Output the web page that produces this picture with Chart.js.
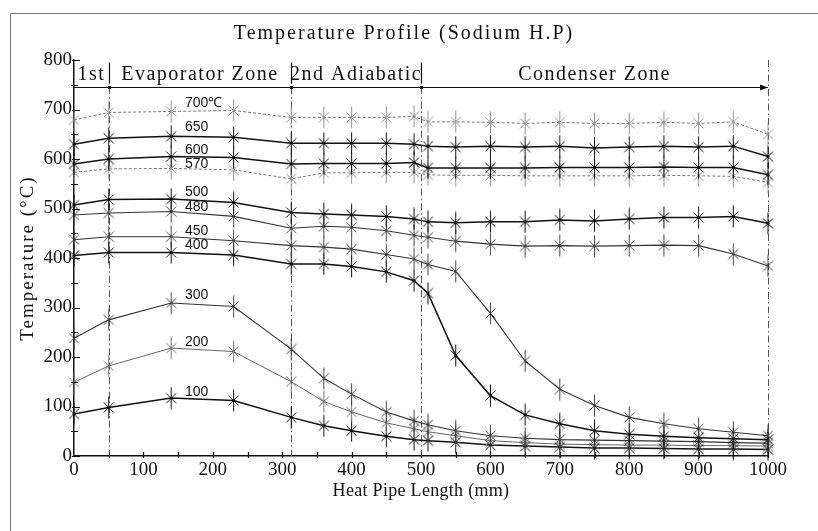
<!DOCTYPE html>
<html>
<head>
<meta charset="utf-8">
<script src="https://cdn.jsdelivr.net/npm/chart.js@4"></script>
<style>
  html, body { margin: 0; padding: 0; background: #fff; }
  #wrap { position: relative; width: 818px; height: 531px; }
</style>
</head>
<body>
<div id="wrap"><canvas id="myChart" width="818" height="531"></canvas></div>
<script>
// measuring positions along the pipe (mm)
const positions = [0, 50, 140, 230, 313, 360, 400, 450, 490, 510, 550, 600, 650, 700, 750, 800, 850, 900, 950, 1000];

// temperatures (°C), one list per heater setting
const t700 = [679, 694, 696, 698, 684, 684, 684, 684, 686, 675, 675, 674, 672, 674, 672, 672, 674, 672, 675, 650];
const t650 = [630, 642, 646, 644, 632, 632, 632, 632, 630, 626, 624, 626, 624, 626, 622, 624, 626, 624, 626, 605];
const t600 = [590, 600, 605, 603, 590, 591, 591, 591, 593, 582, 582, 582, 582, 583, 583, 583, 584, 583, 583, 568];
const t570 = [573, 580, 581, 578, 560, 572, 572, 573, 573, 568, 567, 567, 566, 566, 566, 566, 567, 566, 565, 553];
const t500 = [507, 518, 519, 512, 492, 489, 487, 484, 479, 473, 471, 473, 473, 477, 475, 479, 482, 482, 484, 470];
const t480 = [487, 491, 494, 484, 460, 464, 462, 455, 446, 442, 434, 428, 424, 425, 424, 425, 426, 425, 408, 384];
const t450 = [437, 443, 443, 435, 425, 422, 418, 407, 398, 387, 373, 288, 192, 135, 102, 78, 65, 55, 48, 41];
const t400 = [405, 411, 411, 406, 388, 388, 383, 372, 354, 329, 203, 122, 83, 65, 51, 44, 40, 37, 35, 33];
const t300 = [238, 275, 309, 302, 216, 157, 125, 89, 71, 63, 51, 41, 36, 33, 32, 31, 30, 29, 27, 26];
const t200 = [149, 182, 218, 211, 150, 110, 89, 67, 55, 49, 41, 31, 27, 24, 23, 22, 22, 21, 21, 20];
const t100 = [85, 98, 117, 112, 78, 61, 51, 40, 33, 31, 28, 22, 20, 18, 16, 16, 15, 14, 14, 13];

const seriesNames = ['700℃', '650', '600', '570', '500', '480', '450', '400', '300', '200', '100'];
const seriesValues = [t700, t650, t600, t570, t500, t480, t450, t400, t300, t200, t100];
// where each curve's name sits (temperature level), written at x = labelAt
const labelLevels = [713, 665, 618, 590, 534, 502, 455, 425, 324, 230, 130];
const labelAt = 160;

const zoneEdges = [0, 50, 313, 500, 1000];
const zoneNames = ['1st', 'Evaporator Zone', '2nd Adiabatic', 'Condenser Zone'];
const zoneLineLevel = 745;
const zoneTextLevel = 770;

// dark = solid black curve, mid = thin solid, light = grey dashed curve
const seriesLook = ['light', 'dark', 'dark', 'light', 'dark', 'mid', 'mid', 'dark', 'mid', 'grey', 'dark'];

const serif = "'Liberation Serif', 'Times New Roman', serif";

function makeStar(color, lw, dot) {
  const c = document.createElement('canvas');
  c.width = 13;
  c.height = 23;
  const g = c.getContext('2d');
  g.strokeStyle = color;
  g.lineWidth = lw;
  g.beginPath();
  g.moveTo(6.5, 0.5); g.lineTo(6.5, 22.5);
  g.moveTo(1.5, 6.5); g.lineTo(11.5, 16.5);
  g.moveTo(11.5, 6.5); g.lineTo(1.5, 16.5);
  g.stroke();
  if (dot) {
    g.fillStyle = color;
    g.fillRect(5, 10, 3, 3);
  }
  return c;
}

const looks = {
  dark:  { color: '#111', width: 1.5, dash: [], star: makeStar('#111', 1, true) },
  mid:   { color: '#333', width: 1.1, dash: [], star: makeStar('#333', 0.9, false) },
  grey:  { color: '#666', width: 1, dash: [], star: makeStar('#666', 0.9, false) },
  light: { color: '#777', width: 1, dash: [3, 2], star: makeStar('#888', 0.9, false) }
};

const datasets = seriesValues.map((vals, i) => {
  const lk = looks[seriesLook[i]];
  return {
    label: seriesNames[i],
    data: positions.map((x, j) => ({ x: x, y: vals[j] })),
    borderColor: lk.color,
    borderWidth: lk.width,
    borderDash: lk.dash,
    pointStyle: lk.star,
    pointRadius: 5,
    pointHoverRadius: 5,
    fill: false,
    tension: 0,
    clip: false
  };
});

const annotate = {
  id: 'annotate',
  beforeDatasetsDraw(chart) {
    const { ctx, scales: { x, y } } = chart;
    const lastEdge = zoneEdges[zoneEdges.length - 1];
    ctx.save();
    ctx.strokeStyle = '#555';
    ctx.lineWidth = 1;
    ctx.setLineDash([7, 3, 1.5, 3]);
    zoneEdges.slice(1).forEach(edge => {
      const px = Math.round(x.getPixelForValue(edge)) + 0.5;
      const top = edge === lastEdge ? y.getPixelForValue(800) : y.getPixelForValue(zoneLineLevel);
      ctx.beginPath();
      ctx.moveTo(px, top);
      ctx.lineTo(px, y.getPixelForValue(0));
      ctx.stroke();
    });
    ctx.restore();
  },
  afterDraw(chart) {
    const { ctx, scales: { x, y } } = chart;
    const x0 = x.getPixelForValue(0);
    const y0 = y.getPixelForValue(0);
    ctx.save();

    // outer frame (top + left edges only are visible)
    ctx.strokeStyle = '#777';
    ctx.lineWidth = 1;
    ctx.beginPath();
    ctx.moveTo(10.5, 531); ctx.lineTo(10.5, 13.5); ctx.lineTo(818, 13.5);
    ctx.stroke();

    // axis tick marks
    ctx.strokeStyle = '#111';
    ctx.lineWidth = 1.2;
    ctx.beginPath();
    for (let v = 0; v <= 800; v += 50) {
      const py = Math.round(y.getPixelForValue(v)) + 0.5;
      if (v % 100 === 0) { ctx.moveTo(x0 - 2, py); ctx.lineTo(x0 + 6, py); }
      else { ctx.moveTo(x0 - 3, py); ctx.lineTo(x0 + 4, py); }
    }
    for (let v = 50; v <= 1000; v += 50) {
      const px = Math.round(x.getPixelForValue(v)) + 0.5;
      ctx.moveTo(px, y0 + 2);
      ctx.lineTo(px, y0 - 4);
    }
    ctx.stroke();

    // zone arrow line with bars
    const zy = Math.round(y.getPixelForValue(zoneLineLevel)) + 0.5;
    const xEnd = x.getPixelForValue(zoneEdges[zoneEdges.length - 1]);
    ctx.lineWidth = 1.2;
    ctx.beginPath();
    ctx.moveTo(x0, zy);
    ctx.lineTo(xEnd, zy);
    ctx.stroke();
    ctx.fillStyle = '#111';
    ctx.beginPath();
    ctx.moveTo(xEnd, zy);
    ctx.lineTo(xEnd - 8, zy - 3);
    ctx.lineTo(xEnd - 8, zy + 3);
    ctx.closePath();
    ctx.fill();
    zoneEdges.slice(1, -1).forEach(edge => {
      const px = Math.round(x.getPixelForValue(edge)) + 0.5;
      ctx.fillRect(px - 1.5, zy - 1.5, 3, 3);
      ctx.beginPath();
      ctx.moveTo(px, y.getPixelForValue(795));
      ctx.lineTo(px, y.getPixelForValue(752));
      ctx.stroke();
    });

    // zone names
    ctx.font = '20px ' + serif;
    ctx.letterSpacing = '1.5px';
    ctx.textAlign = 'center';
    ctx.textBaseline = 'middle';
    const ty = y.getPixelForValue(zoneTextLevel);
    zoneNames.forEach((name, i) => {
      const cx = (x.getPixelForValue(zoneEdges[i]) + x.getPixelForValue(zoneEdges[i + 1])) / 2;
      ctx.fillText(name, cx, ty);
    });

    // chart title
    ctx.font = '20px ' + serif;
    ctx.letterSpacing = '2px';
    ctx.fillText('Temperature Profile (Sodium H.P)', 404, 34);

    // axis titles
    ctx.font = '18px ' + serif;
    ctx.letterSpacing = '0.3px';
    ctx.fillText('Heat Pipe Length (mm)', (x0 + xEnd) / 2, 491);
    ctx.save();
    ctx.translate(28, (y.top + y.bottom) / 2);
    ctx.rotate(-Math.PI / 2);
    ctx.font = '19px ' + serif;
    ctx.letterSpacing = '2px';
    ctx.fillText('Temperature (°C)', 0, 0);
    ctx.restore();

    // curve names
    ctx.font = "14px 'Liberation Sans', Arial, sans-serif";
    ctx.letterSpacing = '0px';
    ctx.textAlign = 'left';
    ctx.fillStyle = '#111';
    seriesNames.forEach((name, i) => {
      ctx.fillText(name, x.getPixelForValue(labelAt), y.getPixelForValue(labelLevels[i]));
    });

    ctx.restore();
  }
};

const canvas = document.getElementById('myChart');
new Chart(canvas, {
  type: 'line',
  data: { datasets: datasets },
  options: {
    responsive: false,
    animation: false,
    events: [],
    layout: { padding: { top: 60, right: 50, left: 0, bottom: 0 } },
    plugins: {
      legend: { display: false },
      tooltip: { enabled: false }
    },
    scales: {
      x: {
        type: 'linear',
        min: 0,
        max: 1000,
        afterFit: s => { s.height = 75; },
        ticks: {
          stepSize: 100,
          maxRotation: 0,
          padding: 3,
          color: '#111',
          font: { family: serif, size: 19 },
          callback: v => String(v)
        },
        grid: { display: false, drawTicks: false },
        border: { color: '#111', width: 1.5 }
      },
      y: {
        min: 0,
        max: 800,
        afterFit: s => { s.width = 74; },
        ticks: {
          stepSize: 100,
          padding: 2,
          color: '#111',
          font: { family: serif, size: 19 },
          callback: v => String(v)
        },
        grid: { display: false, drawTicks: false },
        border: { color: '#111', width: 1.5 }
      }
    }
  },
  plugins: [annotate]
});
</script>
</body>
</html>
